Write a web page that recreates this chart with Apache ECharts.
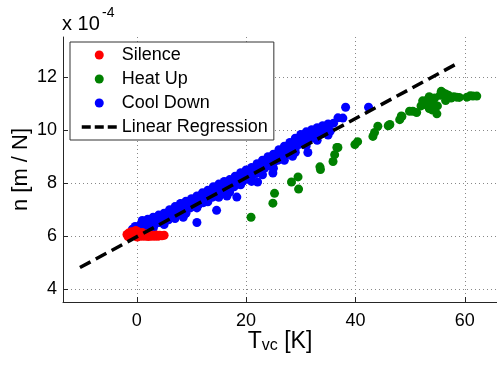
<!DOCTYPE html>
<html>
<head>
<meta charset="utf-8">
<script src="https://cdn.jsdelivr.net/npm/echarts@6/dist/echarts.min.js"></script>
<style>html,body{margin:0;padding:0;background:#fff;}#c{width:497px;height:365px;}</style>
</head>
<body>
<div id="c"></div>
<script>
var xTicks = [0, 20, 40, 60];
var yTicks = [4, 6, 8, 10, 12];
var seriesNames = ['Silence', 'Heat Up', 'Cool Down', 'Linear Regression'];

var silence = [[-1.8,6.05],[-1.5,6.1],[-1.2,6.0],[-1.0,6.15],[-0.8,6.05],[-0.5,6.1],[-0.3,6.0],[0,6.1],[0.2,6.15],[0.4,6.0],[0.6,6.05],[0.9,5.98],[1.2,6.05],[1.5,5.98],[1.8,6.02],[2.1,5.97],[2.4,6.03],[2.7,5.98],[3.0,6.02],[3.3,5.98],[3.6,6.03],[3.9,5.98],[4.2,6.02],[4.6,6.0],[5.0,6.02],[-1.6,5.97],[0.1,5.95],[1.0,6.12],[2.0,6.08],[-0.2,6.2]];

var heatUp = [[20.9,6.7],[24.9,7.23],[25.2,7.6],[28.3,8.03],[29.5,8.22],[29.6,7.76],[33.5,8.6],[33.6,8.5],[35.9,8.8],[36.2,9.06],[36.6,9.33],[36.8,9.33],[39.9,9.44],[40.4,9.55],[43.2,9.75],[43.5,9.9],[44.1,10.13],[46.0,10.15],[46.3,10.2],[48.1,10.38],[48.4,10.52],[48.5,10.5],[49.9,10.7],[50.5,10.7],[51.2,10.65],[52.0,10.9],[52.3,11.09],[52.5,10.95],[53.0,11.1],[53.5,10.8],[53.5,11.25],[54.0,11.0],[54.0,10.75],[54.5,11.2],[54.9,10.6],[55.0,10.9],[55.5,11.3],[55.7,11.45],[56.0,11.4],[56.5,11.1],[56.5,11.35],[57.0,11.3],[57.5,11.2],[58.0,11.25],[58.5,11.23],[59.0,11.22],[60.4,11.23],[61.0,11.28],[61.5,11.27],[62.2,11.27]];

var coolDown = [[-0.8,6.25],[-0.3,6.35],[0.2,6.3],[0.6,6.4],[1.0,6.35],[1.4,6.45],[1.8,6.4],[2.2,6.5],[2.6,6.42],[3.0,6.55],[3.4,6.45],[3.8,6.6],[4.2,6.5],[4.6,6.62],[5.0,6.55],[5.4,6.7],[5.8,6.6],[6.2,6.8],[6.6,6.7],[7.0,6.9],[7.4,6.8],[7.8,7.0],[8.2,6.88],[8.6,7.05],[9.0,6.95],[9.4,7.15],[9.8,7.05],[10.2,7.25],[10.6,7.1],[11.0,7.3],[11.4,7.2],[11.8,7.35],[12.2,7.25],[12.6,7.45],[13.0,7.35],[13.4,7.55],[13.8,7.45],[14.2,7.65],[14.6,7.5],[15.0,7.7],[15.4,7.6],[15.8,7.8],[16.2,7.7],[16.6,7.9],[17.0,7.8],[17.4,7.95],[17.8,7.85],[18.2,8.05],[18.6,7.95],[19.0,8.15],[19.4,8.05],[19.8,8.3],[20.2,8.15],[20.6,8.35],[21.0,8.25],[21.4,8.45],[21.8,8.35],[22.2,8.55],[22.6,8.45],[23.0,8.65],[23.4,8.55],[23.8,8.75],[24.2,8.65],[24.6,8.85],[25.0,8.75],[25.4,8.95],[25.8,8.85],[26.2,9.1],[26.6,8.95],[27.0,9.2],[27.4,9.05],[27.8,9.3],[28.2,9.2],[28.6,9.45],[29.0,9.3],[29.4,9.6],[29.8,9.45],[30.2,9.7],[30.6,9.55],[31.0,9.75],[31.4,9.6],[31.8,9.8],[32.2,9.7],[32.6,9.9],[33.0,9.8],[33.4,9.95],[33.8,9.85],[34.2,10.05],[34.6,9.9],[35.0,10.1],[35.4,9.95],[36.0,10.25],[36.8,10.45],[37.7,10.44],[38.2,10.85],[42.4,10.85],[11.0,6.5],[14.6,6.96],[18.3,7.46],[22.1,8.03],[24.9,8.37],[31.3,9.14],[8.5,6.7],[16.5,7.5],[28.5,9.0],[2.0,6.6],[4.0,6.75],[6.0,6.95],[8.0,7.2],[0.5,6.2],[3.0,6.3],
  [1,6.58],[3,6.7],[5,6.85],[7,7.1],[9,7.3],[11,7.5],[13,7.72],[15,7.95],[17,8.12],[19,8.38],[21,8.58],[23,8.85],[25,9.08],[27,9.38],[29,9.68],[31,9.92],[33,10.08],[35,10.22],
  [2,6.62],[4,6.78],[6,6.98],[8,7.22],[10,7.4],[12,7.62],[14,7.85],[16,8.05],[18,8.25],[20,8.48],[22,8.72],[24,8.98],[26,9.25],[28,9.52],[30,9.82],[32,10.0],[34,10.15],
  [1,6.18],[3,6.3],[5,6.42],[7,6.65],[9,6.85],[11,7.05],[13,7.28],[15,7.45],[17,7.65],[19,7.92],[21,8.05],[23,8.3],[25,8.55],[27,8.85],[29,9.15],[31,9.4],[33,9.6],[35,9.8]];

var regression = [[-10.4,4.80],[58.9,12.53]];

var chart = echarts.init(document.getElementById('c'), null, {renderer: 'canvas'});
var FONT = 'Liberation Sans';
chart.setOption({
  animation: false,
  backgroundColor: '#fff',
  textStyle: {fontFamily: FONT},
  grid: {left: 63, right: 0, top: 37, bottom: 63, containLabel: false, outerBoundsMode: 'none'},
  xAxis: {
    type: 'value', min: -13.5, max: 65.9,
    name: '{t|T}{s|vc}{t| [K]}', nameLocation: 'middle', nameGap: 28, nameMoveOverlap: false,
    nameTextStyle: {rich: {
      t: {fontSize: 23, fontFamily: FONT, color: '#000', lineHeight: 24, verticalAlign: 'top'},
      s: {fontSize: 16, fontFamily: FONT, color: '#000', lineHeight: 16, verticalAlign: 'bottom', padding: [16,0,0,0]}
    }},
    axisLine: {show: true, onZero: false, lineStyle: {color: '#262626', width: 1}},
    axisTick: {show: true, inside: true, length: 5, customValues: xTicks, lineStyle: {color: '#262626'}},
    axisLabel: {customValues: xTicks, fontSize: 18, color: '#000', margin: 10, fontFamily: FONT},
    splitLine: {show: true, lineStyle: {color: '#888', type: [1, 3], width: 1}}
  },
  yAxis: {
    type: 'value', min: 3.5, max: 13.5,
    name: 'n [m / N]', nameLocation: 'middle', nameGap: 31, nameMoveOverlap: false,
    nameTextStyle: {fontSize: 22, color: '#000', fontFamily: FONT},
    axisLine: {show: true, onZero: false, lineStyle: {color: '#262626', width: 1}},
    axisTick: {show: true, inside: true, length: 5, customValues: yTicks, lineStyle: {color: '#262626'}},
    axisLabel: {customValues: yTicks, fontSize: 18, color: '#000', margin: 6, fontFamily: FONT},
    splitLine: {show: true, lineStyle: {color: '#888', type: [1, 3], width: 1}}
  },
  legend: {
    data: ['Silence', 'Heat Up', 'Cool Down',
      {name: 'Linear Regression', itemStyle: {opacity: 0}, lineStyle: {type: [9, 4], width: 3.5}}],
    orient: 'vertical', left: 70, top: 42,
    padding: [4, 6, 4, 10], itemGap: 6, itemWidth: 35, itemHeight: 9,
    backgroundColor: '#fff', borderColor: '#333', borderWidth: 1,
    textStyle: {fontSize: 18, lineHeight: 18, color: '#000', fontFamily: FONT}
  },
  graphic: [
    {type: 'text', left: 62, top: 14, style: {text: 'x 10', fontSize: 20, fontFamily: FONT, fill: '#000'}},
    {type: 'text', left: 102, top: 6, style: {text: '-4', fontSize: 14, fontFamily: FONT, fill: '#000'}}
  ],
  series: [
    {name: 'Silence', type: 'scatter', data: silence, symbolSize: 9, itemStyle: {color: '#ff0000', opacity: 1}, z: 3},
    {name: 'Heat Up', type: 'scatter', data: heatUp, symbolSize: 9, itemStyle: {color: '#008000', opacity: 1}, z: 2},
    {name: 'Cool Down', type: 'scatter', data: coolDown, symbolSize: 9, itemStyle: {color: '#0000ff', opacity: 1}, z: 2},
    {name: 'Linear Regression', type: 'line', data: regression, symbol: 'none', showSymbol: false,
     lineStyle: {color: '#000', width: 3.5, type: [12, 6]}, itemStyle: {color: '#000'}, z: 4}
  ]
});
</script>
</body>
</html>
